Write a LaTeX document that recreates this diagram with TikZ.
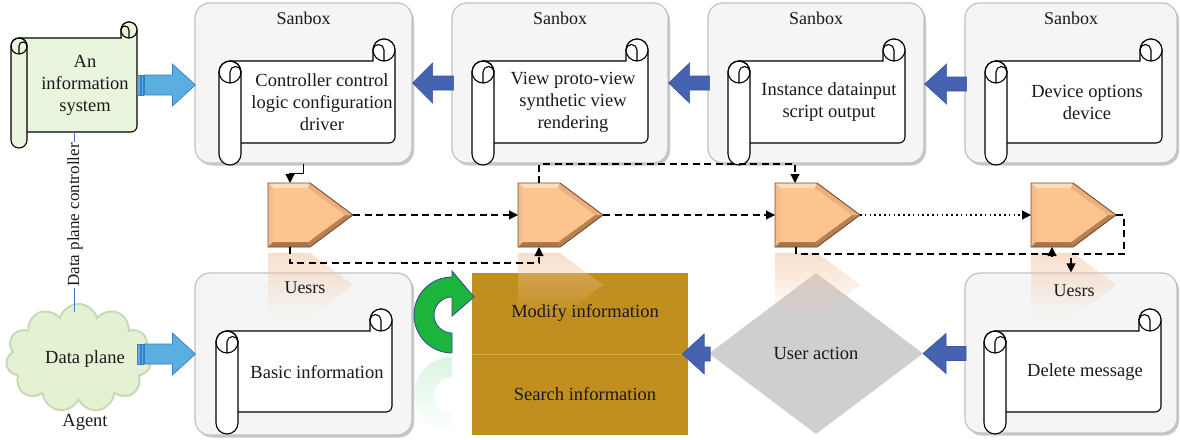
\documentclass[tikz,border=0pt]{standalone}
\usepackage{fontspec}
\setmainfont{Liberation Serif}
\usetikzlibrary{arrows.meta,shapes.symbols,shapes.geometric,shadows,fadings,calc}
\definecolor{boxfill}{HTML}{F5F5F5}
\definecolor{boxedge}{HTML}{C2C2C2}
\definecolor{infofill}{HTML}{E9F5DC}
\definecolor{pentMid}{HTML}{DFA371}
\definecolor{pentTop}{HTML}{FEDDBC}
\definecolor{pentLeft}{HTML}{F4BC8B}
\definecolor{pentBot}{HTML}{A97449}
\definecolor{pentDR}{HTML}{B98152}
\definecolor{pentUR}{HTML}{EBAE7C}
\definecolor{pentFace}{HTML}{FCC590}
\definecolor{pentLine}{HTML}{6E5038}
\definecolor{pentRefl}{HTML}{F2C4A2}
\definecolor{goldc}{HTML}{C18F1F}
\definecolor{golddiv}{HTML}{D6AB50}
\definecolor{diafill}{HTML}{CFCFCF}
\definecolor{lbfill}{HTML}{5AAEE0}
\definecolor{lbdraw}{HTML}{3B7DBF}
\definecolor{dbfill}{HTML}{4563B0}
\definecolor{dbdraw}{HTML}{3A56A0}
\definecolor{grfill}{HTML}{1DB43C}
\definecolor{grdraw}{HTML}{2D4A8C}
\definecolor{grrefl}{HTML}{BDEBC8}
\definecolor{cloudfill}{HTML}{E4F1D2}
\definecolor{cloudedge}{HTML}{C8D9B4}
\definecolor{thinblue}{HTML}{4A72C0}
\definecolor{txt}{HTML}{1A1A1A}
\tikzfading[name=fadedown, top color=transparent!45, bottom color=transparent!100]

\newcommand{\scrollshape}[6]{%
 \pgfmathsetmacro\hr{#5/2}%
 \filldraw[scrollline, fill=#6] ({#1+#5},#2) -- ({#3-2*#5},#2) -- ({#3-2*#5},{#2-#5}) arc(180:360:#5) -- (#3,{#4-6}) arc(0:90:6) -- ({#1+#5},#4) -- cycle;
 \filldraw[scrollline, fill=#6] ({#3-#5},{#2-#5}) circle(#5);
 \draw[scrollline] ({#3-#5},#2) -- ({#3-#5},{#2-#5}) arc(0:-180:\hr);
 \filldraw[scrollline, fill=#6] (#1,{#2+#5}) arc(180:360:#5) -- ({#1+2*#5},{#4+#5}) arc(0:180:#5) -- cycle;
 \draw[scrollline] ({#1+#5},{#2+#5}) circle(#5);
 \draw[scrollline] ({#1+#5},{#2+2*#5}) -- ({#1+#5},{#2+#5}) arc(180:360:\hr);
}
\newcommand{\pentshape}[1]{%
 \fill[pentMid] (#1,183) -- ({#1+42},183) -- ({#1+85},215) -- ({#1+42},247) -- (#1,247) -- cycle;
 \fill[pentTop] (#1,183) -- ({#1+42},183) -- ({#1+40},188) -- ({#1+5},188) -- cycle;
 \fill[pentLeft] (#1,183) -- ({#1+5},188) -- ({#1+5},242) -- (#1,247) -- cycle;
 \fill[pentBot] (#1,247) -- ({#1+5},242) -- ({#1+40},242) -- ({#1+42},247) -- cycle;
 \fill[pentDR] ({#1+42},247) -- ({#1+40},242) -- ({#1+77},215) -- ({#1+85},215) -- cycle;
 \fill[pentUR] ({#1+42},183) -- ({#1+85},215) -- ({#1+77},215) -- ({#1+40},188) -- cycle;
 \fill[pentFace] ({#1+5},188) -- ({#1+40},188) -- ({#1+77},215) -- ({#1+40},242) -- ({#1+5},242) -- cycle;
 \draw[pentLine, line width=0.9pt, line join=miter] (#1,183) -- ({#1+42},183) -- ({#1+85},215) -- ({#1+42},247) -- (#1,247) -- cycle;
}
\newcommand{\pentrefl}[1]{%
 \fill[pentRefl, path fading=fadedown] (#1,253) -- ({#1+42},253) -- ({#1+85},285) -- ({#1+42},317) -- (#1,317) -- cycle;
}
\newcommand{\larrow}[3]{%
 \filldraw[dbarrow] (#1) -- ++(#2,-20) -- ++(0,13) -- ++({#3-#2},0) -- ++(0,14) -- ++({#2-#3},0) -- ++(0,13) -- cycle;
}
\newcommand{\rarrow}[1]{%
 \filldraw[lbarrow] (#1) -- ++(-23,-21) -- ++(0,11) -- ++(-28,0) -- ++(0,20) -- ++(28,0) -- ++(0,11) -- cycle;
 \filldraw[lbarrow] (#1) ++(-58,-10) rectangle ++(2.5,20);
 \filldraw[lbarrow] (#1) ++(-54.5,-10) rectangle ++(2.5,20);
}

\begin{document}
\begin{tikzpicture}[x=1pt,y=-1pt,
  every node/.style={font=\fontsize{18.5}{22}\selectfont, text=txt, align=center},
  sandbox/.style={rounded corners=15pt, fill=boxfill, draw=boxedge, line width=1.2pt,
     drop shadow={shadow xshift=2pt, shadow yshift=-2.5pt, opacity=0.4, fill=black!55},
     minimum height=160pt, inner sep=0pt},
  scrollline/.style={draw=black, line width=1.1pt},
  pentnode/.style={minimum width=85pt, minimum height=64pt, inner sep=0pt, outer sep=0pt},
  dbarrow/.style={fill=dbfill, draw=dbdraw, line width=0.6pt, line join=miter},
  lbarrow/.style={fill=lbfill, draw=lbdraw, line width=0.7pt, line join=miter},
  conn/.style={draw=black, line width=1.1pt, -{Triangle[length=9pt,width=9pt]}},
  dashconn/.style={conn, dash pattern=on 7pt off 4.5pt},
  dotconn/.style={conn, dash pattern=on 1.6pt off 3.2pt},
  labeltxt/.style={font=\fontsize{18}{22}\selectfont},
  ]
\useasboundingbox (0,0) rectangle (1180,439);

% ---- boxes
\node[sandbox, minimum width=217pt] (b1) at (303.5,83) {};
\node[sandbox, minimum width=216pt] (b2) at (560,83) {};
\node[sandbox, minimum width=216pt] (b3) at (816,83) {};
\node[sandbox, minimum width=212pt] (b4) at (1071,83) {};
\node[sandbox, minimum width=217pt, minimum height=162pt] (u1) at (303.5,354) {};
\node[sandbox, minimum width=212pt] (u2) at (1071,353) {};

% ---- scrolls
\scrollshape{219}{61}{395}{143}{11}{white}
\scrollshape{472}{61}{648}{143}{11}{white}
\scrollshape{728}{61}{905}{143}{11}{white}
\scrollshape{985}{61}{1162}{143}{11}{white}
\scrollshape{216}{331}{392}{412}{11}{white}
\scrollshape{984}{331}{1161}{412}{11}{white}
\scrollshape{11}{38}{137}{132}{8}{infofill}

% ---- gold box & diamond
\node[fill=goldc, minimum width=216pt, minimum height=162pt, inner sep=0pt] (gold) at (580,354) {};
\draw[golddiv, line width=0.8pt] (gold.west) -- (gold.east);
\node[minimum width=214pt, minimum height=161pt, inner sep=0pt, outer sep=0pt] (ua) at (816,353.5) {};
\fill[diafill] (ua.west) -- (ua.north) -- (ua.east) -- (ua.south) -- cycle;

% ---- cloud
\node[cloud, cloud puffs=11, aspect=1.35, minimum width=145pt, minimum height=108pt,
      fill=cloudfill, draw=cloudedge, line width=2pt] (cloud) at (78.5,358) {};

% ---- green arrow & reflection
\fill[grrefl, path fading=fadedown] (452,357) arc(270:90:38) -- (452,413) arc(90:270:18) -- cycle;
\filldraw[fill=grfill, draw=grdraw, line width=0.8pt, line join=miter]
  (452,353) arc(90:270:38) -- (452,271) -- (474,297) -- (452,316) -- (452,297) arc(270:90:18) -- cycle;

% ---- pentagons
\pentshape{268}
\pentshape{518}
\pentshape{775}
\pentshape{1031}
\node[pentnode] (p1) at (310.5,215) {};
\node[pentnode] (p2) at (560.5,215) {};
\node[pentnode] (p3) at (817.5,215) {};
\node[pentnode] (p4) at (1073.5,215) {};
\pentrefl{268}
\pentrefl{518}
\pentrefl{775}
\pentrefl{1031}

% ---- texts
\node[labeltxt] (l1) at ($(b1.north)+(0,16)$) {Sanbox};
\node[labeltxt] (l2) at ($(b2.north)+(0,16)$) {Sanbox};
\node[labeltxt] (l3) at ($(b3.north)+(0,16)$) {Sanbox};
\node[labeltxt] (l4) at ($(b4.north)+(0,16)$) {Sanbox};
\node[labeltxt] (l5) at (305,288) {Uesrs};
\node[labeltxt] (l6) at (1074,291) {Uesrs};
\node (s1) at (322,102) {Controller control\\logic configuration\\driver};
\node (s2) at (573,102) {View proto-view\\synthetic view\\rendering};
\node (s3) at (829,102) {Instance datainput\\script output};
\node (s4) at (1087,102) {Device options\\device};
\node (s5) at (317,372) {Basic information};
\node (s6) at (1085,372) {Delete message};
\node (info) at (85,85) {An\\information\\system};
\node (mod) at (585,313) {Modify information};
\node (srch) at (585,394) {Search information};
\node (uatext) at (ua) {User action};
\node (dp) at (85,359) {Data plane};
\node (agent) at (85,422) {Agent};
\node[rotate=90, font=\fontsize{17}{20}\selectfont, inner sep=1pt] (dpc) at (75,215) {Data plane controller};

% ---- thin blue connectors
\coordinate (infob) at (74,132);
\draw[thinblue, line width=1pt] (infob) -- (infob |- dpc.east);
\draw[thinblue, line width=1pt] (infob |- dpc.west) -- (74,312);

% ---- block arrows
\coordinate (ta) at ($(b1.west)+(1,2)$);
\rarrow{ta}
\coordinate (tb) at ($(u1.west)+(1,0)$);
\rarrow{tb}
\larrow{b1.east}{20}{41}
\larrow{b2.east}{21}{41}
\coordinate (tc) at ($(b3.east)+(0,1)$);
\larrow{tc}{22}{42}
\larrow{ua.east}{23}{43}
\coordinate (td) at ($(gold.east)+(-6,0)$);
\larrow{td}{22}{28}

% ---- flow connectors
\draw[conn] (b1.south) -- ++(0,10) -| ($(p1.north)+(-20.5,0)$);
\draw[dashconn] (p1.east) -- (p2.west);
\draw[dashconn] ($(p1.south)+(-20.5,0)$) -- ++(0,16) -| ($(p2.south)+(-21.5,0)$);
\draw[dashconn] ($(p2.north)+(-21.5,0)$) -- ++(0,-19) -| ($(p3.north)+(-22.5,0)$);
\draw[dashconn] (p2.east) -- (p3.west);
\draw[dashconn] ($(p3.south)+(-21.5,0)$) -- ++(0,7) -| ($(p4.south)+(-21.5,0)$);
\draw[dotconn] (p3.east) -- (p4.west);
\draw[dashconn] (p4.east) -- ++(8,0) -- ++(0,39) -| (u2.north);
\end{tikzpicture}
\end{document}
